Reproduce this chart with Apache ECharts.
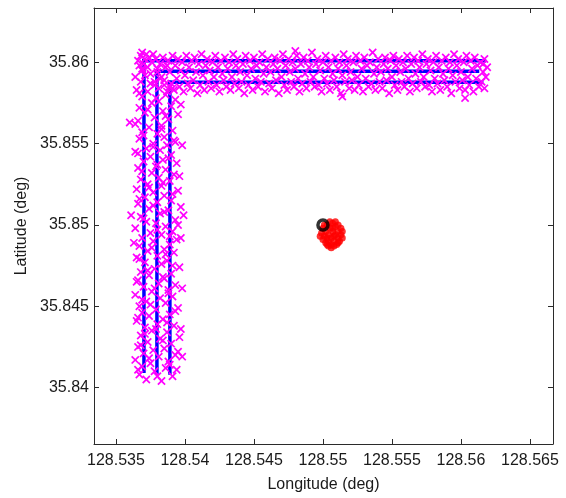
<!DOCTYPE html>
<html>
<head>
<meta charset="utf-8">
<script src="https://cdn.jsdelivr.net/npm/echarts@6/dist/echarts.min.js"></script>
<style>html,body{margin:0;padding:0;background:#fff}#chart{width:566px;height:498px}</style>
</head>
<body>
<div id="chart"></div>
<script>
// Axis limits (deg) and tick labels
const lonRange = [128.53341, 128.56667];
const latRange = [35.83653, 35.86334];
const lonTicks = ['128.535','128.54','128.545','128.55','128.555','128.56','128.565'];
const latTicks = ['35.84','35.845','35.85','35.855','35.86'];

// Planned track (blue): three lanes, each a vertical leg and a horizontal leg
const trackLegs = [
  [[128.53703,35.8410],[128.53703,35.8601]], [[128.53703,35.8601],[128.5617,35.8601]],
  [[128.53797,35.8409],[128.53797,35.85945]], [[128.53797,35.85945],[128.5612,35.85945]],
  [[128.53891,35.8409],[128.53891,35.85878]], [[128.53891,35.85878],[128.5615,35.85878]]
];

// GPS fixes along the vertical leg (magenta)
const gpsVertical = [
[128.5372,35.8405],[128.5383,35.8404],[128.5367,35.8408],[128.5391,35.8407],[128.5378,35.8410],[128.5386,35.8412],[128.5369,35.8413],[128.5394,35.8411],
[128.5375,35.8415],[128.5364,35.8417],[128.5388,35.8416],[128.5381,35.8419],[128.5370,35.8421],[128.5393,35.8420],[128.5377,35.8423],[128.5385,35.8424],
[128.5366,35.8425],[128.5390,35.8427],[128.5373,35.8428],[128.5382,35.8430],[128.5396,35.8431],[128.5368,35.8432],[128.5387,35.8434],[128.5376,35.8435],
[128.5371,35.8437],[128.5392,35.8438],[128.5380,35.8439],[128.5365,35.8441],[128.5384,35.8442],[128.5374,35.8444],[128.5389,35.8445],[128.5369,35.8446],
[128.5379,35.8448],[128.5395,35.8449],[128.5367,35.8450],[128.5386,35.8452],[128.5372,35.8453],[128.5382,35.8455],[128.5391,35.8456],[128.5364,35.8457],
[128.5376,35.8459],[128.5388,35.8460],[128.5370,35.8462],[128.5393,35.8463],[128.5381,35.8464],[128.5366,35.8466],[128.5385,35.8467],[128.5374,35.8469],
[128.5390,35.8470],[128.5368,35.8471],[128.5378,35.8473],[128.5396,35.8474],[128.5383,35.8476],[128.5371,35.8477],[128.5387,35.8478],[128.5365,35.8480],
[128.5380,35.8481],[128.5392,35.8483],[128.5373,35.8484],[128.5385,35.8485],[128.5367,35.8487],[128.5389,35.8488],[128.5377,35.8490],[128.5394,35.8491],
[128.5369,35.8492],[128.5383,35.8494],[128.5375,35.8495],[128.5391,35.8496],[128.5364,35.8498],[128.5386,35.8499],[128.5379,35.8501],[128.5372,35.8502],
[128.5393,35.8503],[128.5368,35.8505],[128.5361,35.8506],[128.5382,35.8507],[128.5388,35.8509],[128.5374,35.8510],[128.5397,35.8511],[128.5366,35.8513],
[128.5380,35.8514],[128.5390,35.8515],[128.5371,35.8517],[128.5385,35.8518],[128.5377,35.8520],[128.5395,35.8521],[128.5365,35.8522],[128.5383,35.8524],
[128.5373,35.8525],[128.5389,35.8527],[128.5368,35.8528],[128.5381,35.8529],[128.5392,35.8531],[128.5376,35.8532],[128.5386,35.8534],[128.5366,35.8535],
[128.5379,35.8536],[128.5394,35.8538],[128.5370,35.8539],[128.5384,35.8540],[128.5375,35.8542],[128.5390,35.8543],[128.5364,35.8545],[128.5382,35.8546],
[128.5372,35.8547],[128.5387,35.8549],[128.5377,35.8550],[128.5393,35.8551],[128.5367,35.8553],[128.5385,35.8554],[128.5380,35.8556],[128.5369,35.8557],
[128.5391,35.8558],[128.5374,35.8560],[128.5360,35.8563],[128.5383,35.8561],[128.5366,35.8564],[128.5388,35.8565],[128.5378,35.8566],[128.5395,35.8568],
[128.5371,35.8569],[128.5384,35.8570],[128.5367,35.8572],[128.5390,35.8573],[128.5376,35.8575],[128.5381,35.8576],[128.5393,35.8577],[128.5369,35.8579],
[128.5386,35.8580],[128.5373,35.8582],[128.5365,35.8583],[128.5389,35.8585],[128.5378,35.8586],[128.5368,35.8588],[128.5382,35.8590],[128.5371,35.8592],
[128.5380,35.8407],[128.5366,35.8411],[128.5389,35.8414],[128.5374,35.8418],[128.5395,35.8422],[128.5368,35.8426],[128.5384,35.8429],[128.5371,35.8433],
[128.5379,35.8436],[128.5387,35.8440],[128.5366,35.8443],[128.5393,35.8447],[128.5375,35.8451],[128.5369,35.8454],[128.5388,35.8458],[128.5378,35.8461],
[128.5365,35.8465],[128.5384,35.8468],[128.5373,35.8472],[128.5391,35.8475],[128.5367,35.8479],[128.5386,35.8482],[128.5376,35.8486],[128.5363,35.8489],
[128.5389,35.8493],[128.5380,35.8497],[128.5395,35.8500],[128.5370,35.8504],[128.5385,35.8508],[128.5377,35.8512],[128.5367,35.8516],[128.5391,35.8519],
[128.5374,35.8523],[128.5384,35.8526],[128.5396,35.8530],[128.5369,35.8533],[128.5380,35.8537],[128.5388,35.8541],[128.5366,35.8544],[128.5377,35.8548],
[128.5392,35.8552],[128.5370,35.8555],[128.5383,35.8559],[128.5364,35.8562],[128.5386,35.8567],[128.5373,35.8571],[128.5397,35.8574],[128.5379,35.8578],
[128.5367,35.8581],[128.5391,35.8584],[128.5375,35.8587],[128.5385,35.8589],[128.5364,35.8591],[128.5380,35.8594],[128.5369,35.8596],[128.5387,35.8598],
[128.5398,35.8549],[128.5397,35.8492],[128.5398,35.8461],[128.5397,35.8436],[128.5398,35.8419],[128.5399,35.8506]
];

// GPS fixes along the horizontal leg (magenta)
const gpsHorizontal = [
[128.5366,35.8601],[128.5368,35.8604],[128.5370,35.8599],[128.5371,35.8602],[128.5373,35.8597],[128.5367,35.8598],[128.5372,35.8605],[128.5369,35.8595],
[128.5374,35.8603],[128.5375,35.8593],[128.5376,35.8600],[128.5378,35.8588],[128.5379,35.8602],[128.5380,35.8596],[128.5381,35.8584],[128.5377,35.8605],
[128.5382,35.8599],[128.5383,35.8591],[128.5384,35.8603],[128.5385,35.8586],[128.5386,35.8597],[128.5387,35.8582],[128.5388,35.8601],[128.5389,35.8594],
[128.5390,35.8587],[128.5391,35.8604],[128.5392,35.8583],[128.5393,35.8598],[128.5394,35.8590],[128.5395,35.8602],[128.5396,35.8585],[128.5397,35.8595],
[128.5398,35.8600],[128.5399,35.8582],[128.5400,35.8592],[128.5401,35.8604],[128.5402,35.8587],[128.5403,35.8597],[128.5404,35.8584],[128.5405,35.8601],
[128.5406,35.8589],[128.5407,35.8603],[128.5408,35.8594],[128.5409,35.8581],[128.5410,35.8599],[128.5411,35.8586],[128.5412,35.8605],[128.5413,35.8592],
[128.5414,35.8583],[128.5415,35.8598],[128.5416,35.8602],[128.5417,35.8588],[128.5418,35.8595],[128.5419,35.8584],[128.5420,35.8600],[128.5421,35.8591],
[128.5422,35.8604],[128.5423,35.8586],[128.5424,35.8597],[128.5425,35.8582],[128.5426,35.8601],[128.5427,35.8593],[128.5428,35.8589],[128.5429,35.8603],
[128.5430,35.8585],[128.5431,35.8596],[128.5432,35.8600],[128.5433,35.8583],[128.5434,35.8591],[128.5435,35.8605],[128.5436,35.8587],[128.5437,35.8598],
[128.5438,35.8602],[128.5439,35.8584],[128.5440,35.8594],[128.5441,35.8588],[128.5442,35.8599],[128.5443,35.8581],[128.5444,35.8604],[128.5445,35.8592],
[128.5446,35.8586],[128.5447,35.8601],[128.5448,35.8596],[128.5449,35.8583],[128.5450,35.8603],[128.5451,35.8590],[128.5452,35.8598],[128.5453,35.8585],
[128.5454,35.8600],[128.5455,35.8588],[128.5456,35.8605],[128.5457,35.8593],[128.5458,35.8582],[128.5459,35.8597],[128.5460,35.8602],[128.5461,35.8587],
[128.5462,35.8594],[128.5463,35.8584],[128.5464,35.8599],[128.5465,35.8603],[128.5466,35.8589],[128.5467,35.8596],[128.5468,35.8581],[128.5469,35.8601],
[128.5470,35.8591],[128.5471,35.8605],[128.5472,35.8586],[128.5473,35.8598],[128.5474,35.8583],[128.5475,35.8602],[128.5476,35.8594],[128.5477,35.8588],
[128.5478,35.8600],[128.5479,35.8585],[128.5480,35.8596],[128.5481,35.8604],[128.5482,35.8590],[128.5483,35.8582],[128.5484,35.8599],[128.5485,35.8587],
[128.5486,35.8603],[128.5487,35.8593],[128.5488,35.8584],[128.5489,35.8601],[128.5490,35.8597],[128.5491,35.8588],[128.5492,35.8606],[128.5493,35.8591],
[128.5494,35.8585],[128.5495,35.8599],[128.5496,35.8602],[128.5497,35.8586],[128.5498,35.8595],[128.5499,35.8582],[128.5500,35.8600],[128.5501,35.8590],
[128.5502,35.8604],[128.5503,35.8587],[128.5504,35.8597],[128.5505,35.8583],[128.5506,35.8601],[128.5507,35.8593],[128.5508,35.8589],[128.5509,35.8603],
[128.5510,35.8585],[128.5511,35.8596],[128.5512,35.8600],[128.5513,35.8581],[128.5514,35.8592],[128.5515,35.8605],[128.5516,35.8588],[128.5517,35.8598],
[128.5518,35.8602],[128.5519,35.8584],[128.5520,35.8594],[128.5521,35.8589],[128.5522,35.8600],[128.5523,35.8583],[128.5524,35.8604],[128.5525,35.8591],
[128.5526,35.8586],[128.5527,35.8601],[128.5528,35.8596],[128.5529,35.8582],[128.5530,35.8603],[128.5531,35.8590],[128.5532,35.8598],[128.5533,35.8585],
[128.5534,35.8600],[128.5535,35.8587],[128.5536,35.8606],[128.5537,35.8593],[128.5538,35.8583],[128.5539,35.8597],[128.5540,35.8602],[128.5541,35.8588],
[128.5542,35.8594],[128.5543,35.8584],[128.5544,35.8599],[128.5545,35.8603],[128.5546,35.8589],[128.5547,35.8596],[128.5548,35.8581],[128.5549,35.8601],
[128.5550,35.8591],[128.5551,35.8604],[128.5552,35.8586],[128.5553,35.8598],[128.5554,35.8583],[128.5555,35.8602],[128.5556,35.8594],[128.5557,35.8588],
[128.5558,35.8600],[128.5559,35.8585],[128.5560,35.8596],[128.5561,35.8604],[128.5562,35.8590],[128.5563,35.8582],[128.5564,35.8599],[128.5565,35.8587],
[128.5566,35.8603],[128.5567,35.8593],[128.5568,35.8584],[128.5569,35.8601],[128.5570,35.8597],[128.5571,35.8588],[128.5572,35.8605],[128.5573,35.8591],
[128.5574,35.8585],[128.5575,35.8599],[128.5576,35.8602],[128.5577,35.8586],[128.5578,35.8595],[128.5579,35.8582],[128.5580,35.8600],[128.5581,35.8590],
[128.5582,35.8604],[128.5583,35.8587],[128.5584,35.8597],[128.5585,35.8583],[128.5586,35.8601],[128.5587,35.8593],[128.5588,35.8589],[128.5589,35.8603],
[128.5590,35.8585],[128.5591,35.8596],[128.5592,35.8600],[128.5593,35.8581],[128.5594,35.8592],[128.5595,35.8605],[128.5596,35.8588],[128.5597,35.8598],
[128.5598,35.8602],[128.5599,35.8584],[128.5600,35.8594],[128.5601,35.8589],[128.5602,35.8600],[128.5603,35.8583],[128.5604,35.8604],[128.5605,35.8591],
[128.5606,35.8586],[128.5607,35.8601],[128.5608,35.8596],[128.5609,35.8582],[128.5610,35.8603],[128.5611,35.8590],[128.5612,35.8598],[128.5613,35.8585],
[128.5614,35.8600],[128.5615,35.8588],[128.5616,35.8594],[128.5617,35.8602],[128.5618,35.8591],[128.5617,35.8584],[128.5619,35.8597],[128.5616,35.8599],
[128.5514,35.8579],[128.5603,35.8578],[128.5480,35.8607],[128.5369,35.8606]
];

// Position estimates (red)
const estimates = [
[128.5503,35.8500],[128.5507,35.8501],[128.5511,35.8500],[128.5500,35.8498],[128.5505,35.8498],[128.5509,35.8499],[128.5513,35.8498],[128.5502,35.8496],
[128.5507,35.8496],[128.5511,35.8496],[128.5499,35.8495],[128.5504,35.8494],[128.5509,35.8494],[128.5513,35.8494],[128.5501,35.8493],[128.5506,35.8492],
[128.5511,35.8492],[128.5500,35.8491],[128.5504,35.8490],[128.5508,35.8490],[128.5512,35.8490],[128.5502,35.8489],[128.5506,35.8488],[128.5510,35.8488],
[128.5504,35.8487],[128.5508,35.8487],[128.5506,35.8486],[128.5509,35.8502],[128.5505,35.8502],[128.5514,35.8496],[128.5514,35.8492],[128.5498,35.8493],
[128.5503,35.8492],[128.5508,35.8493],[128.5507,35.8498],[128.5501,35.8500],[128.5511,35.8489],[128.5503,35.8488]
];

// Start point (black)
const startPoint = [[128.5500,35.8500]];

const FONT = "'Liberation Sans', Arial, sans-serif";
const TXT = '#1a1a1a';
const LINE = '#2b2b2b';
function tickLabel(list){
  return function(v){
    const s = String(+v.toFixed(3));
    return list.indexOf(s) >= 0 ? s : '';
  };
}
function xAx(pos){
  return {
    type:'value', position:pos, min:lonRange[0], max:lonRange[1], splitNumber:6, scale:true,
    axisLine:{show:true, onZero:false, lineStyle:{color:LINE, width:1}},
    axisTick:{show:true, inside:true, length:5, lineStyle:{color:LINE, width:1}},
    axisLabel:{show:pos==='bottom', fontSize:16, fontFamily:FONT, color:TXT, margin:9, formatter:tickLabel(lonTicks), hideOverlap:false},
    splitLine:{show:false},
    name: pos==='bottom' ? 'Longitude (deg)' : '',
    nameLocation:'middle', nameGap:33,
    nameTextStyle:{fontSize:16, fontFamily:FONT, color:TXT}
  };
}
function yAx(pos){
  return {
    type:'value', position:pos, min:latRange[0], max:latRange[1], splitNumber:5, scale:true,
    axisLine:{show:true, onZero:false, lineStyle:{color:LINE, width:1}},
    axisTick:{show:true, inside:true, length:5, lineStyle:{color:LINE, width:1}},
    axisLabel:{show:pos==='left', fontSize:16, fontFamily:FONT, color:TXT, margin:5, formatter:tickLabel(latTicks), hideOverlap:false},
    splitLine:{show:false},
    name: pos==='left' ? 'Latitude (deg)' : '',
    nameLocation:'middle', nameGap:64, nameRotate:90,
    nameTextStyle:{fontSize:16, fontFamily:FONT, color:TXT}
  };
}
function legSeries(pts){
  return {type:'line', xAxisIndex:0, yAxisIndex:0, data:pts, showSymbol:false, symbol:'none',
    lineStyle:{color:'#0000ff', width:3.5, cap:'square'}, z:1, silent:true};
}
function crossItem(params, api){
  const p = api.coord([api.value(0), api.value(1)]);
  const h = 3.6;
  const st = {stroke:'#ff00ff', lineWidth:1.7, fill:null};
  return {type:'group', children:[
    {type:'line', shape:{x1:p[0]-h, y1:p[1]-h, x2:p[0]+h, y2:p[1]+h}, style:st},
    {type:'line', shape:{x1:p[0]-h, y1:p[1]+h, x2:p[0]+h, y2:p[1]-h}, style:st}
  ]};
}
function gpsSeries(pts){
  return {type:'custom', coordinateSystem:'cartesian2d', xAxisIndex:0, yAxisIndex:0, data:pts,
    encode:{x:0, y:1}, renderItem:crossItem, z:10, silent:true, clip:false};
}

const chart = echarts.init(document.getElementById('chart'), null, {renderer:'canvas'});
chart.setOption({
  animation:false,
  backgroundColor:'#ffffff',
  grid:{left:94, right:13, top:8, bottom:49, containLabel:false},
  xAxis:[xAx('bottom'), xAx('top')],
  yAxis:[yAx('left'), yAx('right')],
  series: trackLegs.map(legSeries).concat([
    gpsSeries(gpsVertical), gpsSeries(gpsHorizontal),
    {type:'scatter', xAxisIndex:0, yAxisIndex:0, data:estimates, symbol:'circle', symbolSize:7,
     itemStyle:{color:'#ff0000'}, z:11, silent:true},
    {type:'scatter', xAxisIndex:0, yAxisIndex:0, data:startPoint, symbol:'circle', symbolSize:10,
     itemStyle:{color:'rgba(0,0,0,0)', borderColor:'#000000', borderWidth:3.5}, z:12, silent:true}
  ])
});
</script>
</body>
</html>
